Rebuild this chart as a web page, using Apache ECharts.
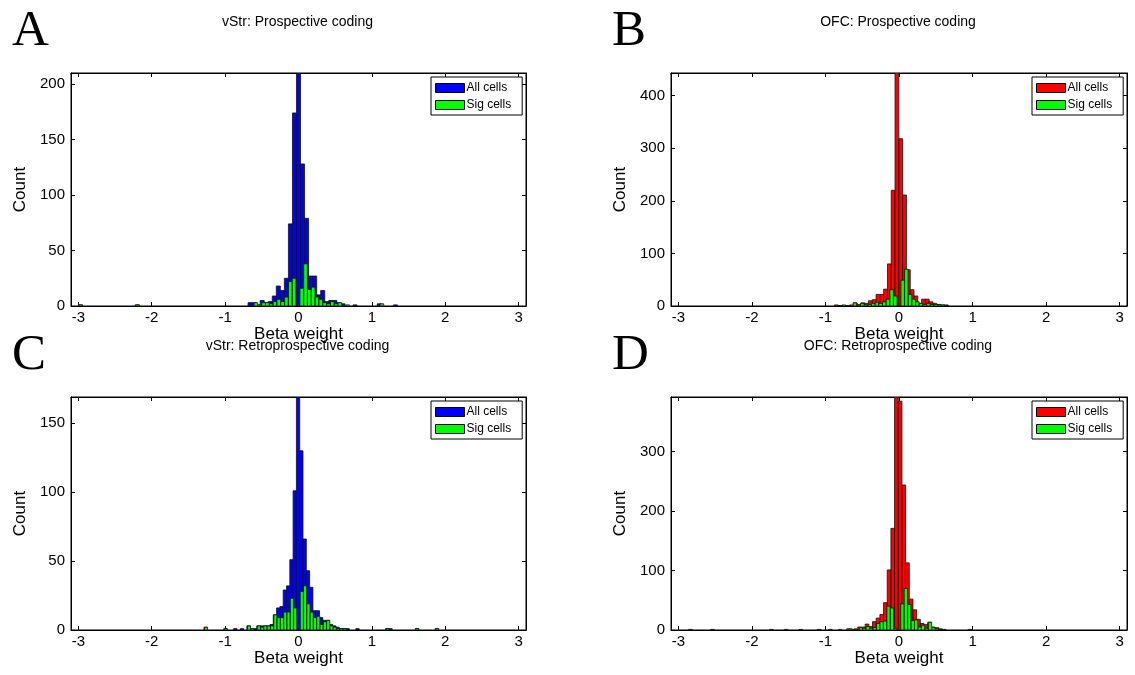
<!DOCTYPE html>
<html><head><meta charset="utf-8">
<script src="https://cdn.jsdelivr.net/npm/echarts@6/dist/echarts.min.js"></script>
<style>html,body{margin:0;padding:0;background:#fff}#c{width:1135px;height:675px}</style>
</head><body><div id="c"></div>
<script>
// ---------------- data ----------------
const xTickValues = [-3, -2, -1, 0, 1, 2, 3];
const panelTitles = ['vStr: Prospective coding', 'OFC: Prospective coding', 'vStr: Retroprospective coding', 'OFC: Retroprospective coding'];
const panelLetters = ['A', 'B', 'C', 'D'];
const legendNames = ['All cells', 'Sig cells'];
const xAxisName = 'Beta weight';
const yAxisName = 'Count';
const yMax = [210, 443, 169, 392];
const yStep = [50, 100, 50, 100];
const binWidthAll = [0.055, 0.0515, 0.045, 0.05];
const binWidthSig = [0.05, 0.048, 0.043, 0.045];

// [bin centre, count]
const allA = [[-2.970,1],[-2.200,1],[-0.660,3],[-0.605,3],[-0.550,1],[-0.495,5],[-0.440,3],[-0.385,4],[-0.330,9],[-0.275,18],[-0.220,14],[-0.165,25],[-0.110,74],[-0.055,174],[0.000,210],[0.055,128],[0.110,79],[0.165,27],[0.220,27],[0.275,10],[0.330,14],[0.385,4],[0.440,5],[0.495,5],[0.550,3],[0.605,2],[0.770,1],[1.100,2],[1.320,1]];
const sigA = [[-2.972,1],[-2.192,1],[-0.580,3],[-0.528,1],[-0.476,3],[-0.424,3],[-0.372,2],[-0.320,4],[-0.268,6],[-0.216,4],[-0.164,8],[-0.112,22],[-0.060,25],[0.044,16],[0.096,38],[0.148,15],[0.200,17],[0.252,8],[0.304,6],[0.356,3],[0.408,2],[0.460,4],[0.512,2],[0.564,3],[0.668,1],[1.136,2]];

const allB = [[-0.852,2],[-0.801,1],[-0.749,1],[-0.698,1],[-0.646,2],[-0.595,6],[-0.543,3],[-0.492,6],[-0.440,5],[-0.389,10],[-0.337,12],[-0.286,22],[-0.234,22],[-0.183,32],[-0.131,80],[-0.080,220],[-0.028,443],[0.024,318],[0.075,211],[0.127,69],[0.178,31],[0.230,19],[0.281,5],[0.333,13],[0.384,13],[0.436,8],[0.487,5],[0.539,3],[0.590,2],[0.642,2]];
const sigB = [[-0.75,2],[-0.60,6],[-0.50,5],[-0.45,2],[-0.40,3],[-0.35,5],[-0.30,7],[-0.25,5],[-0.20,8],[-0.15,13],[-0.10,31],[-0.05,19],[0.05,49],[0.10,70],[0.15,22],[0.20,13],[0.25,8],[0.30,5],[0.35,3],[0.40,5],[0.45,3],[0.50,3],[0.55,2],[0.60,2],[0.65,1]];

const allC = [[-1.266,2],[-0.996,1],[-0.861,1],[-0.771,1],[-0.681,3],[-0.636,1],[-0.591,1],[-0.546,3],[-0.501,3],[-0.456,3],[-0.411,3],[-0.366,4],[-0.321,11],[-0.276,16],[-0.231,17],[-0.186,29],[-0.141,32],[-0.096,51],[-0.051,101],[-0.006,169],[0.039,130],[0.084,66],[0.129,43],[0.174,31],[0.219,14],[0.264,14],[0.309,9],[0.354,7],[0.399,7],[0.444,4],[0.489,3],[0.534,2],[0.579,1],[0.624,1],[0.669,1],[0.804,1],[1.209,1],[1.254,1],[1.614,1],[1.884,1]];
const sigC = [[-1.260,2],[-0.990,1],[-0.675,3],[-0.630,1],[-0.540,3],[-0.495,2],[-0.450,3],[-0.405,3],[-0.360,3],[-0.315,11],[-0.270,9],[-0.225,9],[-0.180,13],[-0.135,13],[-0.090,23],[-0.045,16],[0.045,28],[0.090,32],[0.135,19],[0.180,13],[0.225,9],[0.270,10],[0.315,4],[0.360,6],[0.405,7],[0.450,3],[0.495,2],[0.540,1],[0.585,1],[0.630,1],[1.215,1],[1.620,1],[1.890,1]];

const allD = [[-2.835,1],[-2.535,1],[-1.735,1],[-1.535,1],[-1.335,1],[-1.085,1],[-0.935,1],[-0.685,2],[-0.635,1],[-0.585,2],[-0.535,5],[-0.485,5],[-0.435,10],[-0.385,6],[-0.335,14],[-0.285,20],[-0.235,26],[-0.185,46],[-0.135,101],[-0.085,171],[-0.035,392],[0.015,385],[0.065,244],[0.115,113],[0.165,52],[0.215,34],[0.265,18],[0.315,11],[0.365,9],[0.415,13],[0.465,5],[0.515,4],[0.565,2],[0.615,1],[0.965,1]];
const sigD = [[-0.800,1],[-0.659,2],[-0.518,4],[-0.471,3],[-0.424,6],[-0.377,3],[-0.330,4],[-0.283,11],[-0.236,14],[-0.189,15],[-0.142,40],[-0.095,37],[-0.048,2],[0.046,44],[0.093,70],[0.140,43],[0.187,16],[0.234,17],[0.281,5],[0.328,8],[0.375,3],[0.422,13],[0.469,4],[0.516,2],[0.563,1]];

const allData = [allA, allB, allC, allD];
const sigData = [sigA, sigB, sigC, sigD];

// ---------------- layout / style ----------------
const FONT = 'Liberation Sans, Arial, sans-serif';
const allColors = ['#0000ff', '#ff0000', '#0000ff', '#ff0000'];
const sigColor = '#00ff00';
const grids = [
  {left: 71, top: 73, width: 455, height: 233},
  {left: 671, top: 73, width: 456, height: 233},
  {left: 71, top: 397, width: 455, height: 233},
  {left: 671, top: 397, width: 456, height: 233}
];

function barRenderer(width) {
  return function (params, api) {
    const c = api.value(0), h = api.value(1);
    const p0 = api.coord([c - width / 2, h]);
    const p1 = api.coord([c + width / 2, 0]);
    return {
      type: 'rect',
      shape: {x: p0[0], y: p0[1], width: p1[0] - p0[0], height: p1[1] - p0[1]},
      style: api.style({stroke: '#111', lineWidth: 0.8})
    };
  };
}

const option = {
  animation: false,
  backgroundColor: '#fff',
  grid: grids.map(g => Object.assign({show: true, borderColor: '#000', borderWidth: 1, backgroundColor: 'transparent'}, g)),
  title: [],
  legend: [],
  xAxis: [],
  yAxis: [],
  series: []
};

for (let i = 0; i < 4; i++) {
  const g = grids[i];
  const cx = g.left + g.width / 2;
  option.title.push({
    text: panelTitles[i], left: cx - 1, top: g.top - 58, textAlign: 'center', padding: 0,
    textStyle: {fontFamily: FONT, fontSize: 14, fontWeight: 'normal', color: '#000'}
  });
  option.title.push({
    text: panelLetters[i], left: g.left - 59, top: g.top - 67, padding: 0,
    textStyle: {fontFamily: 'Liberation Serif, Times New Roman, serif', fontSize: 51, fontWeight: 'normal', color: '#000'}
  });
  option.legend.push({
    orient: 'vertical', left: g.left + g.width - 95, top: g.top + 4,
    backgroundColor: '#fff', borderColor: '#000', borderWidth: 1,
    padding: [5, 11, 4, 4], itemGap: 5, itemWidth: 29, itemHeight: 9,
    selectedMode: false,
    textStyle: {fontFamily: FONT, fontSize: 12, color: '#000', padding: [0, 0, 0, -3]},
    data: [
      {name: legendNames[0], icon: 'rect', itemStyle: {color: allColors[i], borderColor: '#000', borderWidth: 1}},
      {name: legendNames[1], icon: 'rect', itemStyle: {color: sigColor, borderColor: '#000', borderWidth: 1}}
    ]
  });
  const xCommon = {
    type: 'value', gridIndex: i, min: -3.1, max: 3.1,
    splitLine: {show: false},
    axisLine: {show: true, onZero: false, lineStyle: {color: '#000', width: 1}},
    axisTick: {show: true, inside: true, length: 4, customValues: xTickValues, lineStyle: {color: '#000'}}
  };
  option.xAxis.push(Object.assign({}, xCommon, {
    position: 'bottom',
    name: xAxisName, nameLocation: 'middle', nameGap: 19,
    nameTextStyle: {fontFamily: FONT, fontSize: 17, color: '#000'},
    axisLabel: {show: true, customValues: xTickValues, fontFamily: FONT, fontSize: 15, color: '#000', margin: 4}
  }));
  option.xAxis.push(Object.assign({}, xCommon, {position: 'top', axisLabel: {show: false}}));
  const yCommon = {
    type: 'value', gridIndex: i, min: 0, max: yMax[i], interval: yStep[i],
    splitLine: {show: false},
    axisLine: {show: true, onZero: false, lineStyle: {color: '#000', width: 1}},
    axisTick: {show: true, inside: true, length: 4, lineStyle: {color: '#000'}}
  };
  option.yAxis.push(Object.assign({}, yCommon, {
    position: 'left',
    name: yAxisName, nameLocation: 'middle', nameGap: 42,
    nameTextStyle: {fontFamily: FONT, fontSize: 17, color: '#000'},
    axisLabel: {show: true, showMaxLabel: false, fontFamily: FONT, fontSize: 15, color: '#000', margin: 6}
  }));
  option.yAxis.push(Object.assign({}, yCommon, {position: 'right', axisLabel: {show: false}}));

  option.series.push({
    type: 'custom', name: legendNames[0], xAxisIndex: 2 * i, yAxisIndex: 2 * i,
    renderItem: barRenderer(binWidthAll[i]), clip: true,
    itemStyle: {color: allColors[i]},
    encode: {x: 0, y: 1},
    data: allData[i]
  });
  option.series.push({
    type: 'custom', name: legendNames[1], xAxisIndex: 2 * i, yAxisIndex: 2 * i,
    renderItem: barRenderer(binWidthSig[i]), clip: true,
    itemStyle: {color: sigColor},
    encode: {x: 0, y: 1},
    data: sigData[i]
  });
}

const chart = echarts.init(document.getElementById('c'), null, {renderer: 'canvas'});
chart.setOption(option);
</script>
</body></html>
